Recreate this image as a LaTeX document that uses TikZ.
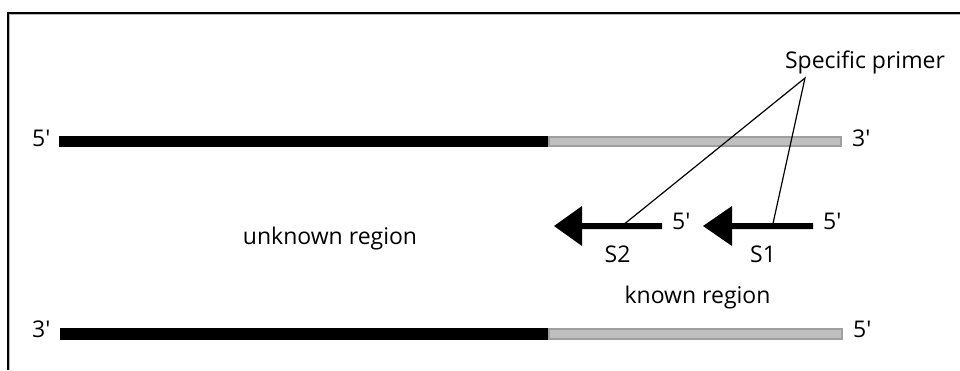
\documentclass[tikz,border=0pt]{standalone}
\usepackage{fontspec}
\setmainfont{Open Sans}[Ligatures=TeXOff]
\begin{document}
\begin{tikzpicture}[x=1pt,y=-1pt,
  lbl/.style={inner sep=0pt,font=\fontsize{23}{27}\selectfont},
  unknownpart/.style={fill=black},
  knownpart/.style={fill=gray!50!white,draw=gray!75!white,line width=2pt},
  primer/.style={fill=black},
  leader/.style={draw=black,line width=1.2pt}]
\useasboundingbox (0,0) rectangle (960,370);

% frame (top and left edges only)
\draw[gray!55,line width=1pt] (9,14.5) -- (960,14.5);
\draw[gray!55,line width=1pt] (9.5,14) -- (9.5,370);
\draw[black,line width=2pt] (7,12.5) -- (960,12.5);
\draw[black,line width=2pt] (7.5,12) -- (7.5,370);

% upper strand 5' -> 3'
\fill[unknownpart] (59,135.5) rectangle (548,147);
\draw[knownpart] (549,136.5) rectangle (841,146);
\node[lbl,anchor=base west] (u5) at (32,146) {5'};
\node[lbl,anchor=base west] (u3) at (852,146) {3'};

% lower strand 3' -> 5'
\fill[unknownpart] (60,327.5) rectangle (548,339.5);
\draw[knownpart] (549,328.5) rectangle (842,338.5);
\node[lbl,anchor=base west] (l3) at (32,337) {3'};
\node[lbl,anchor=base west] (l5) at (853,337) {5'};

% primer S2
\coordinate (s2tip) at (554,226);
\fill[primer] (s2tip) -- (582,206) -- (582,223) -- (662,223) -- (662,229)
  -- (582,229) -- (582,246) -- cycle;
\node[lbl,anchor=base west] (s2five) at (672,229) {5'};
\node[lbl,anchor=base] (s2name) at (617.5,262) {S2};

% primer S1
\coordinate (s1tip) at (703,226);
\fill[primer] (s1tip) -- (732,206) -- (732,223) -- (813,223) -- (813,229)
  -- (732,229) -- (732,246) -- cycle;
\node[lbl,anchor=base west] (s1five) at (823,229) {5'};
\node[lbl,anchor=base] (s1name) at (763,262) {S1};

% region labels
\node[lbl,anchor=base] (unk) at (330,244) {unknown region};
\node[lbl,anchor=base] (kno) at (697.5,303) {known region};

% callout
\node[lbl,anchor=base] (spec) at (865,68) {Specific primer};
\coordinate (apex) at (805,78);
\coordinate (s2foot) at (625,223.5);
\coordinate (s1foot) at (773,223.5);
\draw[leader] (s2foot) -- (apex) -- (s1foot);
\end{tikzpicture}
\end{document}
